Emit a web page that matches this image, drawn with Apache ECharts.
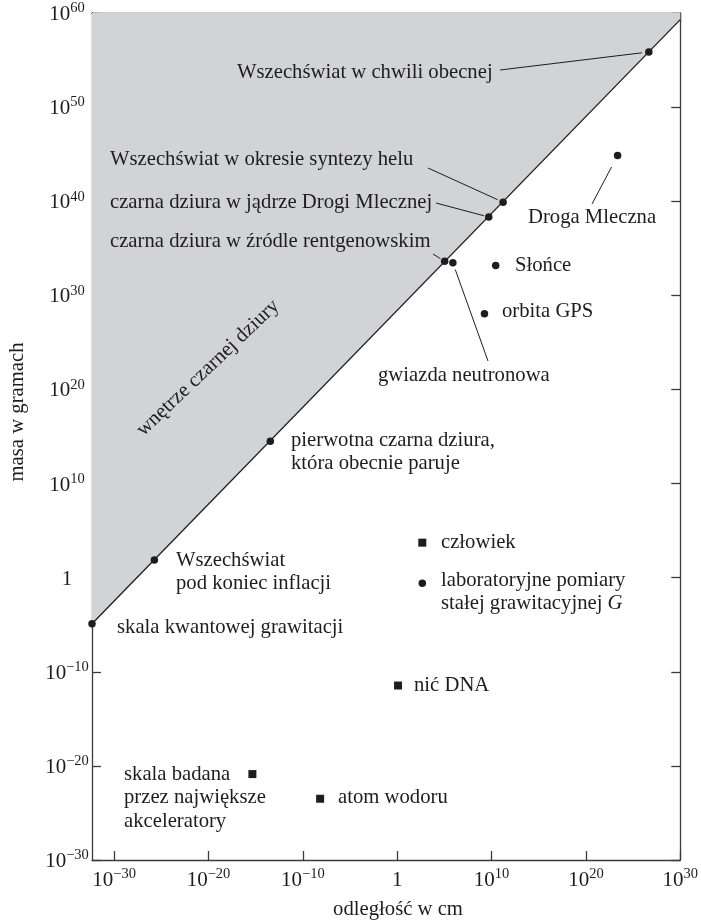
<!DOCTYPE html>
<html>
<head>
<meta charset="utf-8">
<script src="https://cdn.jsdelivr.net/npm/echarts@6/dist/echarts.min.js"></script>
<style>
html,body{margin:0;padding:0;background:#fff;}
#chart{width:701px;height:923px;}
</style>
</head>
<body>
<div id="chart"></div>
<script>
// ---- data (values are base-10 exponents: distance in cm, mass in g) ----
const distRange = [-32.35, 30];
const massRange = [-30, 60];
const distTickExps = [-30, -20, -10, 0, 10, 20, 30];
const massTickExps = [-30, -20, -10, 0, 10, 20, 30, 40, 50, 60];

// black hole boundary (Schwarzschild line)
const boundaryDist = [-32.35, 30];
const boundaryMass = [-4.9, 59.3];

// points lying on the black-hole line
const lineNames = ['skala kwantowej grawitacji', 'Wszechświat pod koniec inflacji',
  'pierwotna czarna dziura', 'czarna dziura w źródle rentgenowskim', 'gwiazda neutronowa',
  'czarna dziura w jądrze Drogi Mlecznej', 'Wszechświat w okresie syntezy helu',
  'Wszechświat w chwili obecnej'];
const lineDist = [-32.35, -25.74, -13.45, 5.03, 5.9, 9.70, 11.22, 26.67];
const lineMass = [-4.9, 1.88, 14.5, 33.62, 33.45, 38.32, 39.9, 55.86];

// other circles
const circleNames = ['Droga Mleczna', 'Słońce', 'orbita GPS', 'laboratoryjne pomiary stałej grawitacyjnej G'];
const circleDist = [23.36, 10.44, 9.25, 2.66];
const circleMass = [44.86, 33.16, 28.03, -0.6];

// squares
const squareNames = ['człowiek', 'nić DNA', 'skala badana przez największe akceleratory', 'atom wodoru'];
const squareDist = [2.66, 0.09, -15.35, -8.17];
const squareMass = [3.72, -11.46, -20.87, -23.49];

// ---- styling ----
const INK = '#1f1c1d';
const AXIS = '#3b3b3b';
const FILL = '#d2d3d5';
const SERIF = '"Liberation Serif", "Times New Roman", serif';
const FONT = '20.7px ' + SERIF;

function zip(a, b) { return a.map((v, i) => [v, b[i]]); }

function expLabel(v) {
  const e = Math.round(v);
  if (e === 0) return '{b|1}';
  return '{b|10}{s|' + String(e).replace('-', '\u2212') + '}';
}
const richTick = {
  b: { fontFamily: SERIF, fontSize: 21, color: INK, lineHeight: 24, verticalAlign: 'bottom' },
  s: { fontFamily: SERIF, fontSize: 14.5, color: INK, lineHeight: 14, verticalAlign: 'top' }
};

function axisCommon(range, ticks, showLabel, labelOpts) {
  return {
    type: 'value', min: range[0], max: range[1],
    axisLine: { show: true, onZero: false, lineStyle: { color: AXIS, width: 1.3 } },
    axisTick: { show: true, inside: true, length: 9, customValues: ticks, lineStyle: { color: AXIS, width: 1.3 } },
    axisLabel: Object.assign({ show: showLabel, customValues: ticks, formatter: expLabel, rich: richTick }, labelOpts || {}),
    splitLine: { show: false }
  };
}

const xBottom = axisCommon(distRange, distTickExps, true, { margin: 7 });
xBottom.position = 'bottom';
const xTop = axisCommon(distRange, distTickExps, false);
xTop.position = 'top';
const yLeft = axisCommon(massRange, massTickExps, true, { margin: 25, align: 'center' });
yLeft.position = 'left';
const yRight = axisCommon(massRange, massTickExps, false);
yRight.position = 'right';

const chart = echarts.init(document.getElementById('chart'), null, { renderer: 'canvas' });
const markStyle = { color: INK, opacity: 1 };
const option = {
  animation: false,
  backgroundColor: '#ffffff',
  grid: { left: 92, right: 19, top: 13, bottom: 63, containLabel: false },
  xAxis: [xBottom, xTop],
  yAxis: [yLeft, yRight],
  series: [
    {
      type: 'line', xAxisIndex: 0, yAxisIndex: 0,
      data: zip(boundaryDist, boundaryMass),
      symbol: 'none', clip: true,
      lineStyle: { color: INK, width: 1.3 },
      areaStyle: { color: FILL, opacity: 1, origin: 'end' },
      z: 1
    },
    {
      type: 'scatter', name: 'line points', xAxisIndex: 0, yAxisIndex: 0,
      data: zip(lineDist, lineMass).map((p, i) => ({ name: lineNames[i], value: p })),
      symbol: 'circle', symbolSize: 7.5, itemStyle: markStyle, clip: false, z: 5
    },
    {
      type: 'scatter', name: 'circles', xAxisIndex: 0, yAxisIndex: 0,
      data: zip(circleDist, circleMass).map((p, i) => ({ name: circleNames[i], value: p })),
      symbol: 'circle', symbolSize: 7.5, itemStyle: markStyle, z: 5
    },
    {
      type: 'scatter', name: 'squares', xAxisIndex: 0, yAxisIndex: 0,
      data: zip(squareDist, squareMass).map((p, i) => ({ name: squareNames[i], value: p })),
      symbol: 'rect', symbolSize: 8, itemStyle: markStyle, z: 5
    }
  ]
};
chart.setOption(option);

// ---- annotations ----
function px(d, m) { return chart.convertToPixel({ xAxisIndex: 0, yAxisIndex: 0 }, [d, m]); }
function txt(text, x, y, extra) {
  return {
    type: 'text', z: 20,
    style: Object.assign({ text: text, x: x, y: y, font: FONT, fill: INK,
      align: 'left', verticalAlign: 'middle', textAlign: 'left', textVerticalAlign: 'middle', lineHeight: 23.5 }, extra || {})
  };
}
function leader(x1, y1, pt, gap) {
  const dx = pt[0] - x1, dy = pt[1] - y1;
  const len = Math.sqrt(dx * dx + dy * dy);
  const x2 = pt[0] - dx / len * gap, y2 = pt[1] - dy / len * gap;
  return { type: 'line', z: 19, shape: { x1: x1, y1: y1, x2: x2, y2: y2 }, style: { stroke: INK, lineWidth: 1 } };
}

const P = lineDist.map((d, i) => px(d, lineMass[i]));
const C = circleDist.map((d, i) => px(d, circleMass[i]));

const graphics = [
  txt('Wszechświat w chwili obecnej', 237, 73),
  leader(500, 70, P[7], 7),
  txt('Wszechświat w okresie syntezy helu', 110, 160),
  leader(428, 168, P[6], 6),
  txt('czarna dziura w jądrze Drogi Mlecznej', 110, 203),
  leader(436, 203, P[5], 5),
  txt('czarna dziura w źródle rentgenowskim', 110, 242),
  leader(433, 254, P[3], 5),
  txt('gwiazda neutronowa', 378, 376),
  leader(488, 361, P[4], 7),
  txt('Droga Mleczna', 528, 218),
  leader(592, 204, C[0], 13),
  txt('Słońce', 515, 266),
  txt('orbita GPS', 502, 312),
  txt('pierwotna czarna dziura,\nktóra obecnie paruje', 291, 452),
  txt('Wszechświat\npod koniec inflacji', 176, 572),
  txt('skala kwantowej grawitacji', 117, 628),
  txt('człowiek', 441, 543),
  txt('laboratoryjne pomiary', 441, 581),
  {
    type: 'text', z: 20,
    style: { text: '{n|stałej grawitacyjnej }{i|G}', x: 441, y: 604, align: 'left', verticalAlign: 'middle',
      textAlign: 'left', textVerticalAlign: 'middle',
      rich: { n: { font: FONT, fill: INK, color: INK }, i: { font: 'italic ' + FONT, fill: INK, color: INK } } }
  },
  txt('nić DNA', 414, 686),
  txt('skala badana\nprzez największe\nakceleratory', 124, 798),
  txt('atom wodoru', 338, 798),
  {
    type: 'text', z: 20, x: 208, y: 368, rotation: 43.5 * Math.PI / 180,
    style: { text: 'wnętrze czarnej dziury', x: 0, y: 0, font: FONT, fill: INK,
      align: 'center', verticalAlign: 'middle', textAlign: 'center', textVerticalAlign: 'middle' }
  },
  {
    type: 'text', z: 20, x: 18, y: 412, rotation: Math.PI / 2,
    style: { text: 'masa w gramach', x: 0, y: 0, font: FONT, fill: INK,
      align: 'center', verticalAlign: 'middle', textAlign: 'center', textVerticalAlign: 'middle' }
  },
  {
    type: 'text', z: 20, x: 398, y: 910,
    style: { text: 'odległość w cm', x: 0, y: 0, font: FONT, fill: INK,
      align: 'center', verticalAlign: 'middle', textAlign: 'center', textVerticalAlign: 'middle' }
  }
];
chart.setOption({ graphic: graphics });
</script>
</body>
</html>
